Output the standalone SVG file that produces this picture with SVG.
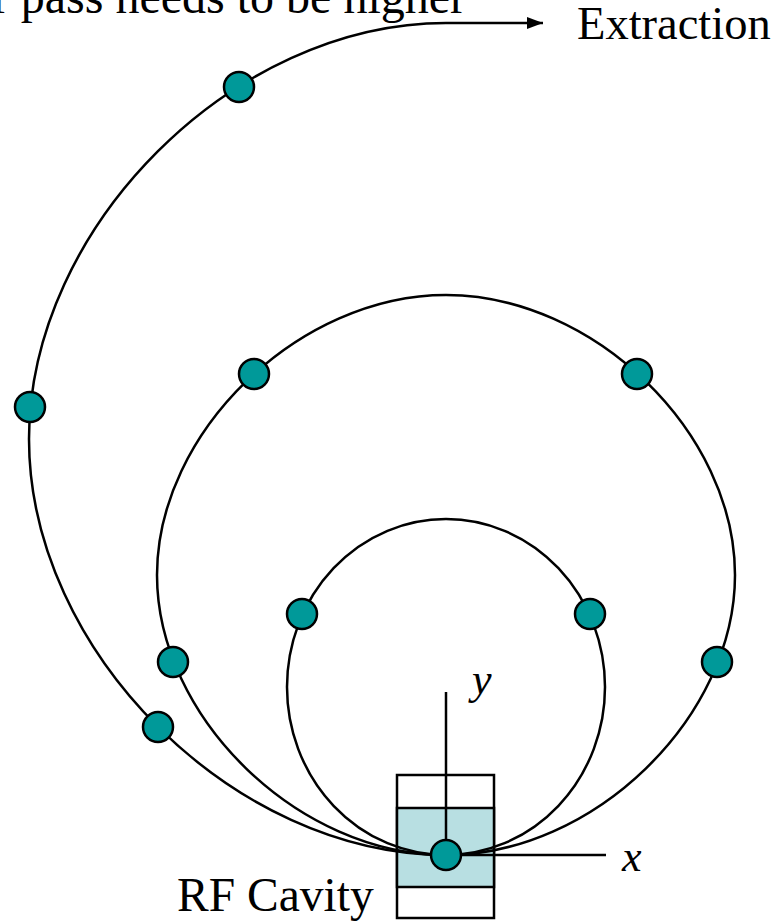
<svg xmlns="http://www.w3.org/2000/svg" width="777" height="922" viewBox="0 0 777 922">
<defs>
<style>
.curve{fill:none;stroke:#000;stroke-width:2.5}
.dot{fill:#009999;stroke:#000;stroke-width:2.5}
.lbl{font-family:"Liberation Serif","Times New Roman",serif;font-size:48px;fill:#000}
.ax{font-family:"Liberation Serif","Times New Roman",serif;font-size:44px;font-style:italic;fill:#000}
</style>
<marker id="arr" viewBox="0 0 16 12" refX="16" refY="6" markerWidth="16" markerHeight="12" markerUnits="userSpaceOnUse" orient="auto">
<path d="M0,0 L16,6 L0,12 Z" fill="#000"/>
</marker>
</defs>
<rect width="777" height="922" fill="#fff"/>
<g id="cavity">
<rect x="397" y="775" width="97" height="143" fill="#fff" stroke="#000" stroke-width="2.5"/>
<rect x="397" y="808" width="97" height="79" fill="#B8DFE2" stroke="#000" stroke-width="2.5"/>
</g>
<g id="connectors">
<path class="curve" d="M446,855 C233.3,855 29,651.2 29,439 C29,226.8 233.3,23 446,23 L543,23" marker-end="url(#arr)"/>
<path class="curve" d="M446,855 C298.6,855 157,717.8 157,575 C157,432.2 298.6,295 446,295 C593.4,295 735,432.2 735,575 C735,717.8 593.4,855 446,855 Z"/>
<ellipse class="curve" cx="446" cy="687" rx="159" ry="168"/>
<line class="curve" x1="446" y1="692" x2="446" y2="855"/>
<line class="curve" x1="446" y1="855" x2="606" y2="855"/>
</g>
<g id="dots">
<circle class="dot" cx="239" cy="87" r="15"/>
<circle class="dot" cx="30" cy="407" r="15"/>
<circle class="dot" cx="158" cy="727" r="15"/>
<circle class="dot" cx="254" cy="374" r="15"/>
<circle class="dot" cx="637" cy="374" r="15"/>
<circle class="dot" cx="173" cy="662" r="15"/>
<circle class="dot" cx="717" cy="662" r="15"/>
<circle class="dot" cx="302" cy="614" r="15"/>
<circle class="dot" cx="590" cy="614" r="15"/>
<circle class="dot" cx="446" cy="855" r="15"/>
</g>
<g id="labels">
<text class="lbl" x="466" y="13" text-anchor="end">r pass needs to be higher</text>
<text class="lbl" x="577" y="39" style="font-size:46.5px">Extraction</text>
<text class="lbl" x="177" y="911" style="font-size:47.5px">RF Cavity</text>
<text class="ax" x="472" y="694">y</text>
<text class="ax" x="622" y="871">x</text>
</g>
</svg>
